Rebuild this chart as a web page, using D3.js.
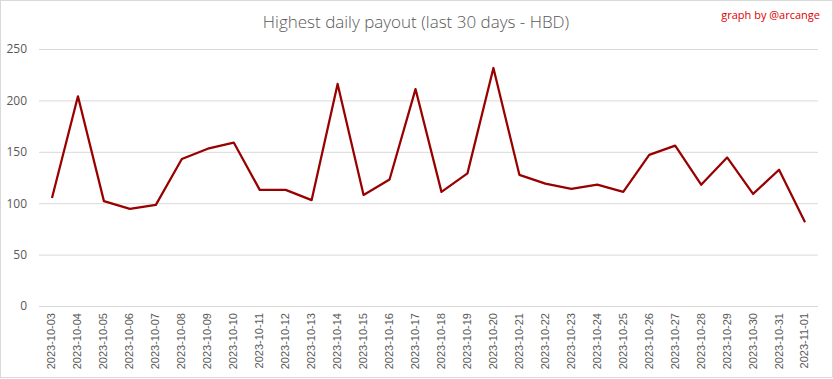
<!DOCTYPE html>
<html><head><meta charset="utf-8">
<script src="https://cdn.jsdelivr.net/npm/d3@7"></script>
<style>html,body{margin:0;padding:0;background:#fff;}svg{display:block;}</style>
</head><body>
<script>
const dates = ["2023-10-03","2023-10-04","2023-10-05","2023-10-06","2023-10-07","2023-10-08","2023-10-09","2023-10-10","2023-10-11","2023-10-12","2023-10-13","2023-10-14","2023-10-15","2023-10-16","2023-10-17","2023-10-18","2023-10-19","2023-10-20","2023-10-21","2023-10-22","2023-10-23","2023-10-24","2023-10-25","2023-10-26","2023-10-27","2023-10-28","2023-10-29","2023-10-30","2023-10-31","2023-11-01"];
const payouts = [105,204,102,94.5,98.4,143,153,159,113,113,103,216,108,123,211,111,129,231.5,127.6,119,114,118,111,147,156,118,144.5,109,132.5,81.5];
const yTicks = [0,50,100,150,200,250];
const title = "Highest daily payout (last 30 days - HBD)";
const credit = "graph by @arcange";

const W = 833, H = 379;
const m = {left:39, right:15, top:49, bottom:73};
const svg = d3.select("body").append("svg").attr("width",W).attr("height",H);
svg.append("rect").attr("x",0.5).attr("y",0.5).attr("width",W-1).attr("height",H-2)
  .attr("fill","#fff").attr("stroke","#d9d9d9");

const x = d3.scaleBand().domain(dates).range([m.left, W-m.right]);
const y = d3.scaleLinear().domain([0,250]).range([H-m.bottom, m.top]);

const yAxis = svg.append("g").attr("transform",`translate(${m.left},0)`)
  .call(d3.axisLeft(y).tickValues(yTicks).tickSize(-(W-m.right-m.left)).tickPadding(12));
yAxis.select(".domain").remove();
yAxis.selectAll(".tick line").attr("stroke","#d9d9d9");
yAxis.selectAll(".tick text").attr("fill","#595959").attr("font-size","12px").attr("font-family","'Open Sans', sans-serif");

const xAxis = svg.append("g").attr("transform",`translate(0,${H-m.bottom})`)
  .call(d3.axisBottom(x).tickSize(0));
xAxis.select(".domain").remove();
xAxis.selectAll(".tick text").attr("fill","#595959").attr("font-size","11px").attr("font-family","'Liberation Sans', sans-serif")
  .attr("transform","rotate(-90)").attr("text-anchor","end").attr("dx","-7px").attr("dy","0.05em").attr("y",0).attr("x",0)
  .style("dominant-baseline","middle");

const line = d3.line().x((d,i)=>x(dates[i])+x.bandwidth()/2).y(d=>y(d));
svg.append("path").datum(payouts).attr("d",line).attr("fill","none")
  .attr("stroke","#990000").attr("stroke-width",2.25).attr("stroke-linejoin","round");

svg.append("text").attr("x",416).attr("y",28).attr("text-anchor","middle")
  .attr("font-family","'Open Sans', sans-serif").attr("font-weight",300).attr("font-size","17px").attr("fill","#595959").text(title);
svg.append("text").attr("x",820).attr("y",19).attr("text-anchor","end")
  .attr("font-family","'Open Sans', sans-serif").attr("font-size","11px").attr("fill","#e00000").text(credit);
</script>
</body></html>
